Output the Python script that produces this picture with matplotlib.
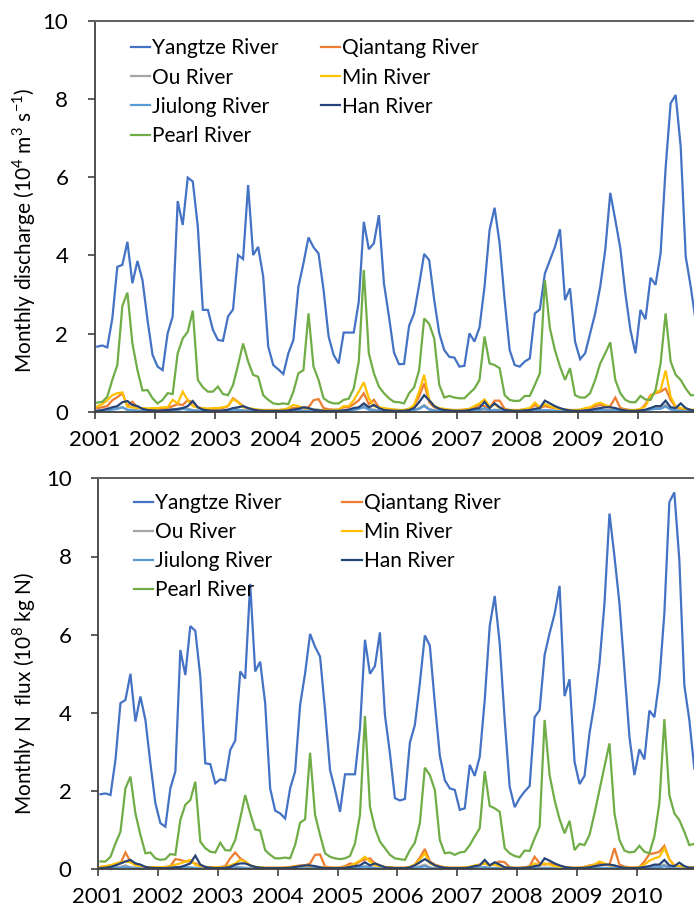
import matplotlib
matplotlib.use("Agg")
import matplotlib.pyplot as plt
import numpy as np

plt.rcParams['font.family'] = ['Lato', 'DejaVu Sans']
plt.rcParams['mathtext.fontset'] = 'custom'
plt.rcParams['mathtext.rm'] = 'Lato'

years = ['2001', '2002', '2003', '2004', '2005', '2006', '2007', '2008', '2009', '2010']
rivers = ['Yangtze River', 'Qiantang River', 'Ou River', 'Min River',
          'Jiulong River', 'Han River', 'Pearl River']
colors = ['#4472C4', '#ED7D31', '#A5A5A5', '#FFC000', '#5B9BD5', '#264478', '#70AD47']

# monthly discharge, 10^4 m3/s (one row per year)
yangtze_q = [
    1.67, 1.70, 1.65, 2.39, 3.71, 3.76, 4.35, 3.29, 3.86, 3.37, 2.35, 1.46,
    1.16, 1.07, 2.01, 2.44, 5.39, 4.78, 5.99, 5.89, 4.74, 2.61, 2.61, 2.10,
    1.84, 1.82, 2.44, 2.62, 4.01, 3.91, 5.80, 4.01, 4.22, 3.46, 1.67, 1.20,
    1.09, 0.97, 1.50, 1.84, 3.20, 3.80, 4.46, 4.21, 4.05, 3.12, 1.93, 1.46,
    1.24, 2.03, 2.03, 2.03, 2.82, 4.86, 4.16, 4.31, 5.03, 3.29, 2.44, 1.52,
    1.22, 1.23, 2.20, 2.52, 3.25, 4.04, 3.88, 2.86, 2.01, 1.58, 1.41, 1.39,
    1.16, 1.18, 2.01, 1.80, 2.16, 3.20, 4.65, 5.22, 4.31, 2.86, 1.58, 1.20,
    1.16, 1.29, 1.37, 2.52, 2.62, 3.54, 3.88, 4.22, 4.67, 2.86, 3.16, 1.80,
    1.35, 1.50, 2.01, 2.52, 3.20, 4.14, 5.60, 4.91, 4.18, 3.03, 2.10, 1.50,
    2.61, 2.37, 3.43, 3.25, 4.05, 6.23, 7.89, 8.10, 6.78, 3.97, 3.20, 2.30]
qiantang_q = [
    0.10, 0.12, 0.15, 0.30, 0.38, 0.48, 0.15, 0.26, 0.12, 0.08, 0.07, 0.07,
    0.07, 0.08, 0.10, 0.15, 0.20, 0.18, 0.30, 0.25, 0.12, 0.08, 0.07, 0.07,
    0.08, 0.10, 0.15, 0.35, 0.26, 0.15, 0.08, 0.06, 0.05, 0.05, 0.05, 0.05,
    0.05, 0.06, 0.08, 0.10, 0.10, 0.12, 0.12, 0.30, 0.33, 0.10, 0.07, 0.06,
    0.06, 0.12, 0.12, 0.20, 0.30, 0.48, 0.20, 0.31, 0.12, 0.08, 0.06, 0.06,
    0.05, 0.05, 0.08, 0.15, 0.40, 0.73, 0.25, 0.12, 0.08, 0.06, 0.05, 0.05,
    0.05, 0.06, 0.08, 0.10, 0.18, 0.15, 0.10, 0.29, 0.29, 0.08, 0.05, 0.05,
    0.05, 0.06, 0.08, 0.18, 0.10, 0.15, 0.12, 0.10, 0.08, 0.06, 0.05, 0.05,
    0.05, 0.08, 0.10, 0.15, 0.18, 0.15, 0.15, 0.37, 0.10, 0.07, 0.05, 0.05,
    0.06, 0.20, 0.43, 0.48, 0.52, 0.60, 0.31, 0.12, 0.08, 0.06, 0.05, 0.05]
ou_q = [
    0.03, 0.04, 0.05, 0.08, 0.10, 0.12, 0.05, 0.06, 0.04, 0.03, 0.02, 0.02,
    0.02, 0.03, 0.04, 0.08, 0.06, 0.10, 0.08, 0.05, 0.04, 0.03, 0.02, 0.02,
    0.02, 0.03, 0.04, 0.08, 0.06, 0.04, 0.03, 0.02, 0.02, 0.02, 0.02, 0.02,
    0.02, 0.02, 0.03, 0.05, 0.04, 0.04, 0.04, 0.06, 0.06, 0.03, 0.02, 0.02,
    0.02, 0.04, 0.04, 0.06, 0.10, 0.15, 0.08, 0.06, 0.04, 0.03, 0.02, 0.02,
    0.02, 0.02, 0.03, 0.05, 0.10, 0.18, 0.08, 0.04, 0.03, 0.02, 0.02, 0.02,
    0.02, 0.02, 0.03, 0.04, 0.05, 0.06, 0.04, 0.06, 0.05, 0.02, 0.02, 0.02,
    0.02, 0.02, 0.03, 0.06, 0.04, 0.05, 0.04, 0.03, 0.02, 0.02, 0.02, 0.02,
    0.02, 0.03, 0.03, 0.05, 0.06, 0.05, 0.05, 0.08, 0.03, 0.02, 0.02, 0.02,
    0.02, 0.05, 0.10, 0.12, 0.12, 0.18, 0.08, 0.04, 0.03, 0.02, 0.02, 0.02]
min_q = [
    0.14, 0.20, 0.30, 0.43, 0.48, 0.50, 0.14, 0.12, 0.10, 0.10, 0.09, 0.10,
    0.10, 0.12, 0.12, 0.31, 0.22, 0.52, 0.30, 0.15, 0.12, 0.10, 0.09, 0.10,
    0.10, 0.12, 0.15, 0.33, 0.25, 0.12, 0.10, 0.08, 0.06, 0.05, 0.05, 0.05,
    0.05, 0.06, 0.10, 0.18, 0.15, 0.10, 0.08, 0.06, 0.05, 0.05, 0.05, 0.05,
    0.06, 0.15, 0.15, 0.30, 0.52, 0.76, 0.35, 0.15, 0.12, 0.10, 0.08, 0.06,
    0.05, 0.05, 0.08, 0.18, 0.52, 0.95, 0.31, 0.15, 0.10, 0.08, 0.06, 0.05,
    0.05, 0.06, 0.08, 0.15, 0.22, 0.32, 0.15, 0.20, 0.10, 0.06, 0.05, 0.05,
    0.05, 0.08, 0.10, 0.24, 0.12, 0.20, 0.15, 0.10, 0.08, 0.06, 0.05, 0.05,
    0.06, 0.10, 0.12, 0.20, 0.24, 0.18, 0.12, 0.08, 0.06, 0.05, 0.05, 0.05,
    0.08, 0.15, 0.40, 0.50, 0.56, 1.06, 0.39, 0.14, 0.10, 0.08, 0.06, 0.05]
jiulong_q = [
    0.02, 0.03, 0.04, 0.06, 0.08, 0.12, 0.06, 0.04, 0.03, 0.02, 0.02, 0.02,
    0.02, 0.02, 0.03, 0.06, 0.05, 0.08, 0.06, 0.04, 0.03, 0.02, 0.02, 0.02,
    0.02, 0.02, 0.03, 0.06, 0.05, 0.04, 0.03, 0.02, 0.02, 0.02, 0.02, 0.02,
    0.02, 0.02, 0.02, 0.04, 0.04, 0.03, 0.03, 0.04, 0.04, 0.02, 0.02, 0.02,
    0.02, 0.03, 0.03, 0.05, 0.08, 0.12, 0.06, 0.04, 0.03, 0.02, 0.02, 0.02,
    0.02, 0.02, 0.03, 0.05, 0.08, 0.15, 0.06, 0.04, 0.03, 0.02, 0.02, 0.02,
    0.02, 0.02, 0.03, 0.04, 0.05, 0.10, 0.04, 0.05, 0.04, 0.02, 0.02, 0.02,
    0.02, 0.02, 0.03, 0.05, 0.04, 0.05, 0.04, 0.03, 0.02, 0.02, 0.02, 0.02,
    0.02, 0.02, 0.03, 0.04, 0.05, 0.04, 0.04, 0.05, 0.03, 0.02, 0.02, 0.02,
    0.02, 0.04, 0.06, 0.08, 0.08, 0.14, 0.06, 0.04, 0.03, 0.02, 0.02, 0.02]
han_q = [
    0.03, 0.05, 0.08, 0.12, 0.15, 0.25, 0.28, 0.18, 0.15, 0.08, 0.05, 0.04,
    0.03, 0.04, 0.05, 0.06, 0.08, 0.10, 0.15, 0.28, 0.12, 0.06, 0.04, 0.03,
    0.03, 0.04, 0.06, 0.10, 0.12, 0.15, 0.10, 0.06, 0.04, 0.03, 0.03, 0.03,
    0.03, 0.03, 0.04, 0.06, 0.08, 0.12, 0.10, 0.06, 0.04, 0.03, 0.03, 0.03,
    0.03, 0.04, 0.06, 0.10, 0.12, 0.22, 0.12, 0.18, 0.10, 0.05, 0.04, 0.03,
    0.03, 0.03, 0.05, 0.10, 0.25, 0.43, 0.30, 0.15, 0.08, 0.05, 0.04, 0.03,
    0.03, 0.03, 0.05, 0.08, 0.10, 0.26, 0.10, 0.22, 0.12, 0.05, 0.04, 0.03,
    0.03, 0.04, 0.05, 0.08, 0.10, 0.29, 0.22, 0.15, 0.10, 0.06, 0.04, 0.03,
    0.03, 0.04, 0.05, 0.08, 0.10, 0.12, 0.12, 0.10, 0.06, 0.04, 0.03, 0.03,
    0.04, 0.06, 0.10, 0.15, 0.15, 0.29, 0.12, 0.10, 0.22, 0.10, 0.05, 0.04]
pearl_q = [
    0.24, 0.26, 0.39, 0.82, 1.20, 2.71, 3.05, 1.75, 1.07, 0.55, 0.56, 0.35,
    0.22, 0.31, 0.48, 0.46, 1.50, 1.88, 2.05, 2.59, 0.82, 0.63, 0.52, 0.52,
    0.65, 0.46, 0.43, 0.69, 1.20, 1.75, 1.29, 0.95, 0.90, 0.43, 0.31, 0.22,
    0.20, 0.22, 0.20, 0.52, 0.99, 1.07, 2.52, 1.16, 0.82, 0.35, 0.26, 0.22,
    0.22, 0.31, 0.34, 0.60, 1.29, 3.63, 1.50, 0.99, 0.65, 0.48, 0.35, 0.26,
    0.25, 0.22, 0.48, 0.63, 1.07, 2.39, 2.25, 1.88, 0.69, 0.37, 0.41, 0.37,
    0.35, 0.35, 0.48, 0.60, 0.82, 1.93, 1.24, 1.20, 1.12, 0.43, 0.31, 0.28,
    0.29, 0.41, 0.41, 0.69, 0.99, 3.37, 2.14, 1.58, 1.16, 0.82, 1.12, 0.43,
    0.37, 0.37, 0.48, 0.82, 1.24, 1.50, 1.78, 0.82, 0.48, 0.31, 0.25, 0.25,
    0.41, 0.32, 0.31, 0.56, 1.24, 2.52, 1.29, 0.95, 0.82, 0.60, 0.43, 0.43]

# monthly N flux, 10^8 kg N
yangtze_n = [
    1.92, 1.94, 1.90, 2.80, 4.25, 4.33, 5.00, 3.78, 4.42, 3.82, 2.71, 1.69,
    1.18, 1.09, 2.07, 2.50, 5.61, 4.97, 6.22, 6.10, 4.93, 2.71, 2.69, 2.20,
    2.30, 2.27, 3.05, 3.29, 5.06, 4.88, 7.30, 5.06, 5.31, 4.25, 2.07, 1.50,
    1.43, 1.30, 2.07, 2.50, 4.20, 5.01, 6.02, 5.69, 5.44, 4.07, 2.54, 2.03,
    1.47, 2.43, 2.43, 2.43, 3.60, 5.87, 5.00, 5.20, 6.06, 3.95, 2.97, 1.82,
    1.76, 1.80, 3.24, 3.69, 4.76, 5.98, 5.72, 4.25, 2.91, 2.28, 2.07, 2.03,
    1.52, 1.56, 2.67, 2.39, 2.88, 4.33, 6.22, 6.99, 5.78, 3.82, 2.11, 1.59,
    1.82, 1.99, 2.13, 3.89, 4.07, 5.48, 6.04, 6.53, 7.25, 4.43, 4.86, 2.75,
    2.18, 2.39, 3.48, 4.25, 5.27, 6.80, 9.10, 8.00, 6.80, 5.10, 3.39, 2.41,
    3.07, 2.81, 4.06, 3.89, 4.84, 6.55, 9.39, 9.64, 7.91, 4.71, 3.82, 2.58]
qiantang_n = [
    0.06, 0.08, 0.10, 0.12, 0.15, 0.43, 0.20, 0.15, 0.10, 0.06, 0.05, 0.05,
    0.05, 0.06, 0.08, 0.26, 0.24, 0.20, 0.20, 0.15, 0.10, 0.06, 0.05, 0.05,
    0.06, 0.08, 0.28, 0.43, 0.28, 0.20, 0.10, 0.06, 0.05, 0.04, 0.04, 0.04,
    0.04, 0.05, 0.06, 0.08, 0.10, 0.10, 0.15, 0.37, 0.38, 0.07, 0.05, 0.04,
    0.05, 0.08, 0.15, 0.12, 0.20, 0.25, 0.28, 0.15, 0.10, 0.06, 0.05, 0.04,
    0.04, 0.04, 0.06, 0.12, 0.30, 0.52, 0.20, 0.12, 0.08, 0.05, 0.04, 0.04,
    0.04, 0.05, 0.06, 0.08, 0.12, 0.15, 0.10, 0.15, 0.20, 0.18, 0.05, 0.04,
    0.04, 0.05, 0.08, 0.32, 0.15, 0.12, 0.15, 0.10, 0.08, 0.06, 0.04, 0.04,
    0.05, 0.06, 0.10, 0.12, 0.15, 0.12, 0.12, 0.54, 0.12, 0.07, 0.05, 0.05,
    0.06, 0.20, 0.39, 0.41, 0.45, 0.60, 0.25, 0.10, 0.08, 0.06, 0.05, 0.05]
ou_n = [
    0.02, 0.03, 0.04, 0.05, 0.06, 0.10, 0.05, 0.04, 0.03, 0.02, 0.02, 0.02,
    0.02, 0.02, 0.03, 0.06, 0.05, 0.06, 0.05, 0.04, 0.03, 0.02, 0.02, 0.02,
    0.02, 0.02, 0.05, 0.08, 0.05, 0.04, 0.03, 0.02, 0.02, 0.02, 0.02, 0.02,
    0.02, 0.02, 0.02, 0.03, 0.03, 0.03, 0.03, 0.06, 0.06, 0.02, 0.02, 0.02,
    0.02, 0.03, 0.04, 0.04, 0.06, 0.08, 0.06, 0.04, 0.03, 0.02, 0.02, 0.02,
    0.02, 0.02, 0.03, 0.04, 0.08, 0.12, 0.05, 0.03, 0.02, 0.02, 0.02, 0.02,
    0.02, 0.02, 0.02, 0.03, 0.04, 0.05, 0.03, 0.04, 0.04, 0.03, 0.02, 0.02,
    0.02, 0.02, 0.03, 0.06, 0.04, 0.04, 0.04, 0.03, 0.02, 0.02, 0.02, 0.02,
    0.02, 0.02, 0.03, 0.04, 0.04, 0.04, 0.04, 0.08, 0.03, 0.02, 0.02, 0.02,
    0.02, 0.04, 0.07, 0.08, 0.08, 0.12, 0.05, 0.03, 0.02, 0.02, 0.02, 0.02]
min_n = [
    0.06, 0.08, 0.10, 0.15, 0.18, 0.20, 0.18, 0.10, 0.08, 0.06, 0.05, 0.05,
    0.05, 0.06, 0.08, 0.12, 0.15, 0.20, 0.24, 0.12, 0.08, 0.06, 0.05, 0.05,
    0.05, 0.06, 0.10, 0.15, 0.24, 0.20, 0.10, 0.06, 0.05, 0.04, 0.04, 0.04,
    0.04, 0.04, 0.05, 0.08, 0.08, 0.10, 0.08, 0.06, 0.05, 0.04, 0.04, 0.04,
    0.04, 0.06, 0.08, 0.15, 0.22, 0.32, 0.20, 0.10, 0.08, 0.06, 0.05, 0.04,
    0.04, 0.04, 0.06, 0.12, 0.25, 0.41, 0.15, 0.10, 0.06, 0.05, 0.04, 0.04,
    0.04, 0.05, 0.06, 0.10, 0.12, 0.15, 0.10, 0.12, 0.08, 0.05, 0.04, 0.04,
    0.04, 0.05, 0.06, 0.15, 0.10, 0.15, 0.12, 0.08, 0.06, 0.05, 0.04, 0.04,
    0.04, 0.06, 0.08, 0.12, 0.20, 0.15, 0.10, 0.08, 0.06, 0.05, 0.04, 0.04,
    0.06, 0.12, 0.22, 0.28, 0.32, 0.54, 0.25, 0.10, 0.08, 0.06, 0.05, 0.04]
jiulong_n = [
    0.01, 0.02, 0.02, 0.03, 0.04, 0.06, 0.04, 0.03, 0.02, 0.01, 0.01, 0.01,
    0.01, 0.01, 0.02, 0.04, 0.03, 0.05, 0.04, 0.03, 0.02, 0.01, 0.01, 0.01,
    0.01, 0.01, 0.02, 0.04, 0.04, 0.03, 0.02, 0.01, 0.01, 0.01, 0.01, 0.01,
    0.01, 0.01, 0.01, 0.02, 0.02, 0.02, 0.02, 0.03, 0.03, 0.01, 0.01, 0.01,
    0.01, 0.02, 0.02, 0.03, 0.05, 0.07, 0.04, 0.03, 0.02, 0.01, 0.01, 0.01,
    0.01, 0.01, 0.02, 0.03, 0.05, 0.08, 0.04, 0.02, 0.02, 0.01, 0.01, 0.01,
    0.01, 0.01, 0.02, 0.02, 0.03, 0.06, 0.03, 0.03, 0.02, 0.01, 0.01, 0.01,
    0.01, 0.01, 0.02, 0.03, 0.02, 0.03, 0.03, 0.02, 0.01, 0.01, 0.01, 0.01,
    0.01, 0.01, 0.02, 0.02, 0.03, 0.03, 0.03, 0.04, 0.02, 0.01, 0.01, 0.01,
    0.01, 0.02, 0.04, 0.05, 0.05, 0.08, 0.04, 0.02, 0.02, 0.01, 0.01, 0.01]
han_n = [
    0.03, 0.04, 0.06, 0.10, 0.15, 0.20, 0.24, 0.15, 0.12, 0.06, 0.04, 0.03,
    0.03, 0.03, 0.04, 0.05, 0.06, 0.10, 0.15, 0.35, 0.12, 0.06, 0.04, 0.03,
    0.03, 0.04, 0.06, 0.12, 0.15, 0.15, 0.10, 0.06, 0.04, 0.03, 0.03, 0.03,
    0.03, 0.03, 0.04, 0.06, 0.08, 0.10, 0.10, 0.08, 0.05, 0.03, 0.03, 0.03,
    0.03, 0.04, 0.06, 0.08, 0.10, 0.18, 0.10, 0.15, 0.10, 0.05, 0.04, 0.03,
    0.03, 0.03, 0.05, 0.10, 0.18, 0.26, 0.18, 0.10, 0.06, 0.04, 0.03, 0.03,
    0.03, 0.03, 0.05, 0.08, 0.10, 0.24, 0.10, 0.18, 0.12, 0.05, 0.04, 0.03,
    0.03, 0.04, 0.05, 0.08, 0.10, 0.28, 0.22, 0.15, 0.10, 0.06, 0.04, 0.03,
    0.03, 0.04, 0.05, 0.08, 0.10, 0.12, 0.12, 0.10, 0.06, 0.04, 0.03, 0.03,
    0.04, 0.06, 0.08, 0.12, 0.12, 0.24, 0.10, 0.08, 0.17, 0.08, 0.04, 0.04]
pearl_n = [
    0.20, 0.20, 0.32, 0.66, 0.96, 2.07, 2.37, 1.43, 0.88, 0.41, 0.43, 0.28,
    0.24, 0.26, 0.39, 0.37, 1.26, 1.65, 1.77, 2.24, 0.71, 0.54, 0.45, 0.43,
    0.68, 0.49, 0.48, 0.75, 1.30, 1.90, 1.43, 1.02, 0.99, 0.49, 0.37, 0.28,
    0.28, 0.30, 0.28, 0.62, 1.19, 1.28, 2.98, 1.39, 0.88, 0.41, 0.32, 0.28,
    0.26, 0.28, 0.34, 0.66, 1.39, 3.92, 1.60, 1.05, 0.71, 0.54, 0.37, 0.28,
    0.26, 0.24, 0.49, 0.68, 1.18, 2.60, 2.41, 2.03, 0.75, 0.41, 0.43, 0.37,
    0.43, 0.45, 0.62, 0.84, 1.05, 2.51, 1.62, 1.56, 1.47, 0.54, 0.41, 0.34,
    0.31, 0.48, 0.47, 0.79, 1.09, 3.82, 2.41, 1.77, 1.28, 0.92, 1.24, 0.49,
    0.65, 0.62, 0.88, 1.43, 2.03, 2.63, 3.22, 1.43, 0.75, 0.48, 0.43, 0.45,
    0.60, 0.45, 0.41, 0.84, 1.69, 3.84, 1.90, 1.43, 1.26, 0.96, 0.62, 0.65]

discharge = [yangtze_q, qiantang_q, ou_q, min_q, jiulong_q, han_q, pearl_q]
nflux = [yangtze_n, qiantang_n, ou_n, min_n, jiulong_n, han_n, pearl_n]

months = np.arange(len(yangtze_q)) + 0.5


def draw_panel(ax, series, ylabel, label_y, leg_x, leg_pad, colspace):
    for name, vals, c in zip(rivers, series, colors):
        ax.plot(months, vals, color=c, lw=1.6, label=name, solid_joinstyle='miter')
    ax.set_xlim(0, 120)
    ax.set_ylim(0, 10)
    ax.set_yticks([0, 2, 4, 6, 8, 10])
    ax.set_xticks(np.arange(0, 120, 12))
    ax.set_xticklabels(years)
    ax.tick_params(axis='both', labelsize=16, length=5, width=1.2, color='#404040')
    ax.tick_params(axis='y', pad=14)
    ax.tick_params(axis='x', pad=8)
    for side in ['left', 'bottom']:
        ax.spines[side].set_color('#404040')
        ax.spines[side].set_linewidth(1.3)
    for side in ['top', 'right']:
        ax.spines[side].set_color('#5f5f5f')
        ax.spines[side].set_linewidth(1.4)
    fig.text(24 / 694, 1 - label_y / 918, ylabel, rotation=90, fontsize=15,
             ha='center', va='center')
    # legend: column 1 Yangtze/Ou/Jiulong/Pearl, column 2 Qiantang/Min/Han
    h, l = ax.get_legend_handles_labels()
    order = [0, 2, 4, 6, 1, 3, 5]
    ax.legend([h[i] for i in order], [l[i] for i in order], ncol=2,
              loc='upper left', bbox_to_anchor=(leg_x, 1.0), frameon=False,
              fontsize=15, handlelength=0.95, handletextpad=0.1,
              columnspacing=colspace, labelspacing=0.44, borderaxespad=leg_pad)


fig = plt.figure(figsize=(6.94, 9.18), dpi=100)
ax1 = fig.add_axes([94.7 / 694, 1 - 412 / 918, 603.6 / 694, 391.3 / 918])
ax2 = fig.add_axes([98 / 694, 1 - 869.3 / 918, 598.8 / 694, 391 / 918])

draw_panel(ax1, discharge, r'Monthly discharge (10$^{4}$ m$^{3}$ s$^{-1}$)', 230,
           0.03, 0.45, 2.0)
draw_panel(ax2, nflux, r'Monthly N  flux (10$^{8}$ kg N)', 693,
           0.035, 0.3, 2.9)

fig.savefig('out.png', dpi=100)
